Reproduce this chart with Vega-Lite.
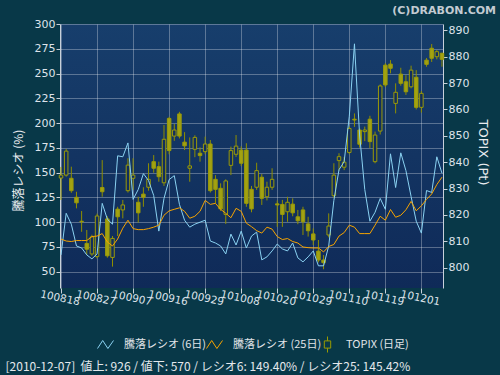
{
  "$schema": "https://vega.github.io/schema/vega-lite/v6.json",
  "width": 383,
  "height": 264,
  "autosize": {"type": "none"},
  "padding": {"left": 60, "top": 24, "right": 57, "bottom": 87},
  "background": "#083848",
  "title": {"text": "(C)DRABON.COM", "anchor": "end", "orient": "top", "frame": "group", "dx": 53, "offset": 0, "dy": 7, "baseline": "alphabetic", "font": "DejaVu Sans", "fontSize": 11, "fontWeight": "bold", "color": "#c3cbd2"},
  "config": {
    "view": {"stroke": null, "fill": {"gradient": "linear", "x1": 0, "y1": 0, "x2": 0, "y2": 1, "stops": [{"offset": 0, "color": "#173e6c"}, {"offset": 1, "color": "#0f2a58"}]}},
    "axis": {"labelColor": "#dde3ea", "domainColor": "#c8d0da", "tickColor": "#c8d0da", "gridColor": "#ffffff", "gridOpacity": 0.3, "labelFont": "DejaVu Sans", "labelFontSize": 11, "titleFont": "Noto Sans CJK JP", "titleColor": "#e8ecf0", "titleFontWeight": "normal", "titleFontSize": 12}
  },
  "data": {"values": [
    {"d":"2010-08-18","o":834.0,"h":838.2,"l":825.7,"c":835.1,"r6":67,"r25":83},
    {"d":"2010-08-19","o":835.1,"h":845.0,"l":834.5,"c":844.2,"r6":109,"r25":81},
    {"d":"2010-08-20","o":833.9,"h":838.3,"l":828.4,"c":829.2,"r6":98,"r25":80.5},
    {"d":"2010-08-23","o":826.7,"h":828.8,"l":822.5,"c":824.6,"r6":76,"r25":81.5},
    {"d":"2010-08-24","o":817.6,"h":821.5,"l":813.6,"c":817.4,"r6":74,"r25":81.5},
    {"d":"2010-08-25","o":809.2,"h":814.3,"l":804.8,"c":807.0,"r6":67,"r25":81.5},
    {"d":"2010-08-26","o":805.2,"h":812.5,"l":804.5,"c":811.7,"r6":63,"r25":85.5},
    {"d":"2010-08-27","o":804.2,"h":820.5,"l":803.5,"c":819.6,"r6":68,"r25":86},
    {"d":"2010-08-30","o":830.4,"h":840.8,"l":826.9,"c":828.8,"r6":119,"r25":88.5},
    {"d":"2010-08-31","o":818.5,"h":819.5,"l":803.8,"c":804.5,"r6":103,"r25":80},
    {"d":"2010-09-01","o":803.9,"h":812.0,"l":800.4,"c":811.1,"r6":98,"r25":76},
    {"d":"2010-09-02","o":822.2,"h":823.1,"l":812.0,"c":819.3,"r6":167,"r25":83},
    {"d":"2010-09-03","o":821.9,"h":825.7,"l":818.7,"c":823.8,"r6":166,"r25":94},
    {"d":"2010-09-06","o":829.2,"h":841.5,"l":828.5,"c":838.9,"r6":180,"r25":102},
    {"d":"2010-09-07","o":833.9,"h":841.5,"l":829.5,"c":835.1,"r6":123,"r25":93.5},
    {"d":"2010-09-08","o":824.8,"h":826.9,"l":817.1,"c":820.8,"r6":133,"r25":92.5},
    {"d":"2010-09-09","o":827.9,"h":830.5,"l":823.1,"c":826.7,"r6":149,"r25":92.5},
    {"d":"2010-09-10","o":830.5,"h":839.6,"l":829.2,"c":833.5,"r6":142,"r25":93.5},
    {"d":"2010-09-13","o":840.2,"h":842.7,"l":836.0,"c":837.7,"r6":127,"r25":95},
    {"d":"2010-09-14","o":838.3,"h":840.2,"l":832.6,"c":834.5,"r6":91,"r25":97},
    {"d":"2010-09-15","o":832.2,"h":854.1,"l":831.0,"c":848.7,"r6":124,"r25":107},
    {"d":"2010-09-16","o":856.6,"h":857.2,"l":843.0,"c":844.4,"r6":143,"r25":111.5},
    {"d":"2010-09-17","o":849.9,"h":854.5,"l":848.1,"c":852.2,"r6":147,"r25":113},
    {"d":"2010-09-21","o":858.3,"h":859.1,"l":849.0,"c":849.9,"r6":118,"r25":114.5},
    {"d":"2010-09-22","o":847.6,"h":851.4,"l":844.6,"c":846.2,"r6":102,"r25":111},
    {"d":"2010-09-24","o":837.7,"h":849.4,"l":832.6,"c":838.6,"r6":95,"r25":104},
    {"d":"2010-09-27","o":844.9,"h":850.2,"l":841.9,"c":849.4,"r6":98,"r25":106},
    {"d":"2010-09-28","o":843.4,"h":845.6,"l":840.2,"c":842.5,"r6":100,"r25":111},
    {"d":"2010-09-29","o":844.0,"h":849.7,"l":843.0,"c":846.9,"r6":102,"r25":122},
    {"d":"2010-09-30","o":846.9,"h":848.4,"l":828.5,"c":829.2,"r6":81,"r25":118},
    {"d":"2010-10-01","o":833.5,"h":835.1,"l":824.5,"c":829.7,"r6":79,"r25":119},
    {"d":"2010-10-04","o":830.1,"h":832.0,"l":821.5,"c":822.3,"r6":76,"r25":113},
    {"d":"2010-10-05","o":820.2,"h":833.5,"l":816.6,"c":832.9,"r6":68,"r25":109},
    {"d":"2010-10-06","o":838.8,"h":845.9,"l":835.1,"c":844.4,"r6":88,"r25":104.5},
    {"d":"2010-10-07","o":843.0,"h":850.3,"l":842.0,"c":846.1,"r6":77,"r25":114},
    {"d":"2010-10-08","o":844.6,"h":846.0,"l":838.5,"c":839.6,"r6":91,"r25":111},
    {"d":"2010-10-12","o":844.6,"h":847.2,"l":823.1,"c":824.4,"r6":74,"r25":99},
    {"d":"2010-10-13","o":829.7,"h":831.0,"l":821.0,"c":822.3,"r6":86,"r25":95.5},
    {"d":"2010-10-14","o":830.5,"h":839.8,"l":829.5,"c":836.8,"r6":90,"r25":91.5},
    {"d":"2010-10-15","o":834.3,"h":835.5,"l":823.8,"c":826.3,"r6":62,"r25":89},
    {"d":"2010-10-18","o":826.9,"h":832.6,"l":825.5,"c":830.5,"r6":65,"r25":95},
    {"d":"2010-10-19","o":830.5,"h":837.7,"l":829.5,"c":833.5,"r6":71,"r25":93},
    {"d":"2010-10-20","o":824.2,"h":825.5,"l":815.5,"c":823.8,"r6":78,"r25":85.5},
    {"d":"2010-10-21","o":824.0,"h":825.7,"l":815.5,"c":820.2,"r6":73,"r25":82.5},
    {"d":"2010-10-22","o":821.2,"h":826.9,"l":817.4,"c":824.8,"r6":71,"r25":83.5},
    {"d":"2010-10-25","o":824.1,"h":826.3,"l":819.5,"c":820.8,"r6":79,"r25":80.5},
    {"d":"2010-10-26","o":819.3,"h":821.9,"l":816.5,"c":817.8,"r6":64,"r25":79},
    {"d":"2010-10-27","o":821.9,"h":823.1,"l":812.4,"c":817.4,"r6":60,"r25":75},
    {"d":"2010-10-28","o":816.6,"h":819.3,"l":811.8,"c":814.0,"r6":65,"r25":74.3},
    {"d":"2010-10-29","o":812.8,"h":814.9,"l":808.6,"c":810.5,"r6":71,"r25":74},
    {"d":"2010-11-01","o":806.3,"h":810.5,"l":802.0,"c":802.9,"r6":56,"r25":74},
    {"d":"2010-11-02","o":802.9,"h":804.8,"l":799.4,"c":801.9,"r6":56,"r25":70},
    {"d":"2010-11-04","o":812.4,"h":820.6,"l":811.5,"c":815.8,"r6":76,"r25":75.5},
    {"d":"2010-11-05","o":827.3,"h":839.6,"l":826.5,"c":835.1,"r6":122,"r25":77.5},
    {"d":"2010-11-08","o":840.6,"h":843.4,"l":836.8,"c":842.1,"r6":153,"r25":86},
    {"d":"2010-11-09","o":838.1,"h":842.0,"l":837.0,"c":840.0,"r6":161,"r25":89.5},
    {"d":"2010-11-10","o":843.7,"h":853.5,"l":843.0,"c":852.8,"r6":207,"r25":97},
    {"d":"2010-11-11","o":856.3,"h":858.5,"l":853.4,"c":856.0,"r6":280,"r25":95},
    {"d":"2010-11-12","o":852.2,"h":852.8,"l":845.5,"c":846.8,"r6":188,"r25":88.5},
    {"d":"2010-11-15","o":851.6,"h":853.5,"l":848.0,"c":852.2,"r6":133,"r25":88.5},
    {"d":"2010-11-16","o":856.3,"h":857.6,"l":845.3,"c":847.8,"r6":101,"r25":88.5},
    {"d":"2010-11-17","o":840.2,"h":851.6,"l":839.6,"c":850.3,"r6":110,"r25":97},
    {"d":"2010-11-18","o":851.8,"h":869.5,"l":850.5,"c":868.9,"r6":124,"r25":106},
    {"d":"2010-11-19","o":876.8,"h":877.5,"l":868.5,"c":869.3,"r6":113,"r25":102},
    {"d":"2010-11-22","o":877.2,"h":878.7,"l":873.7,"c":875.6,"r6":169,"r25":112.8},
    {"d":"2010-11-24","o":862.3,"h":869.9,"l":858.5,"c":866.5,"r6":135,"r25":105},
    {"d":"2010-11-25","o":873.4,"h":875.8,"l":869.0,"c":869.9,"r6":170,"r25":107},
    {"d":"2010-11-26","o":870.5,"h":873.0,"l":865.5,"c":866.7,"r6":152,"r25":112.5},
    {"d":"2010-11-29","o":868.6,"h":876.6,"l":868.0,"c":874.9,"r6":126,"r25":121},
    {"d":"2010-11-30","o":872.2,"h":874.9,"l":860.0,"c":860.8,"r6":101,"r25":111.5},
    {"d":"2010-12-01","o":860.8,"h":867.0,"l":858.8,"c":866.1,"r6":89,"r25":116.5},
    {"d":"2010-12-02","o":878.7,"h":879.5,"l":876.2,"c":877.1,"r6":132,"r25":123},
    {"d":"2010-12-03","o":883.2,"h":884.8,"l":878.0,"c":879.4,"r6":130,"r25":128.5},
    {"d":"2010-12-06","o":880.0,"h":882.5,"l":879.0,"c":881.9,"r6":166,"r25":138},
    {"d":"2010-12-07","o":881.3,"h":881.5,"l":876.2,"c":879.0,"r6":149.4,"r25":145.42}
  ]},
  "encoding": {
    "x": {"field": "d", "type": "ordinal", "sort": null,
      "scale": {"paddingInner": 0.6, "paddingOuter": 0},
      "axis": {"values": ["2010-08-18","2010-08-27","2010-09-07","2010-09-16","2010-09-29","2010-10-08","2010-10-20","2010-10-29","2010-11-10","2010-11-19","2010-12-01"],
        "labelExpr": "slice(datum.value,2,4)+slice(datum.value,5,7)+slice(datum.value,8,10)",
        "labelAngle": 12, "labelAlign": "center", "labelBaseline": "top", "labelFontSize": 10.5, "labelPadding": 0,
        "grid": true, "bandPosition": 0.5, "domain": false, "tickSize": 5,
        "title": "[2010-12-07]\u00a0 値上: 926 / 値下: 570 / レシオ6: 149.40% / レシオ25: 145.42%",
        "titleX": -55, "titleY": 78, "titleAlign": "left", "titleBaseline": "middle", "titleFontSize": 12, "titleColor": "#e4e8ec"}}
  },
  "layer": [
    {
      "encoding": {"y": {"field": "h", "type": "quantitative",
        "scale": {"domain": [792.3, 892.4], "nice": false, "zero": false},
        "axis": {"orient": "right", "values": [800,810,820,830,840,850,860,870,880,890], "grid": false, "tickSize": 4, "labelPadding": 1,
          "title": "TOPIX (Pt)", "titleFont": "DejaVu Sans", "titleFontSize": 13, "titleX": 39, "titleY": 128, "titleAlign": "center", "titleBaseline": "middle"}}},
      "layer": [
        {"mark": {"type": "rule", "color": "#8f8f00", "strokeWidth": 1},
         "encoding": {"y2": {"field": "l"}}},
        {"mark": {"type": "bar", "size": 3.5, "stroke": "#9a9a08", "strokeWidth": 1},
         "encoding": {"y": {"field": "o", "type": "quantitative"}, "y2": {"field": "c"},
           "fill": {"condition": {"test": "datum.c < datum.o", "value": "#a2a212"}, "value": "#122e5c"}}}
      ]
    },
    {
      "transform": [{"fold": ["r6", "r25"], "as": ["s", "v"]}],
      "mark": {"type": "line", "strokeWidth": 1},
      "encoding": {
        "y": {"field": "v", "type": "quantitative",
          "scale": {"domain": [33.6, 300], "nice": false, "zero": false},
          "axis": {"orient": "left", "values": [50,75,100,125,150,175,200,225,250,275,300], "grid": true, "tickSize": 4, "labelPadding": 1,
            "title": "騰落レシオ (%)", "titleX": -42, "titleY": 146, "titleAlign": "center", "titleBaseline": "middle"}},
        "color": {"field": "s", "type": "nominal",
          "scale": {"domain": ["r6", "r25", "tp"], "range": ["#8ad2f2", "#f7a400", "#9a9a00"]},
          "legend": {"orient": "none", "legendX": 37, "legendY": 312, "direction": "horizontal", "title": null, "padding": 0, "gridAlign": "none",
            "labelColor": "#e0e4e8", "labelFont": "Noto Sans CJK JP", "labelFontSize": 11, "labelOffset": 10, "columnPadding": -3,
            "symbolSize": 256, "symbolStrokeWidth": 1, "symbolFillColor": "transparent",
            "symbolType": "M-1,0.5L-0.35,-0.5L0.3,0.5L1,-0.5",
            "labelExpr": "datum.value == 'r6' ? '騰落レシオ (6日)' : datum.value == 'r25' ? '騰落レシオ (25日)' : 'TOPIX (日足)'",
            "encode": {"symbols": {"update": {"shape": {"signal": "datum.value == 'tp' ? 'M0,-1L0,-0.45M-0.4,-0.45L0.4,-0.45L0.4,0.45L-0.4,0.45ZM0,0.45L0,1' : 'M-1,0.5L-0.35,-0.5L0.3,0.5L1,-0.5'"}}}}}}
      }
    }
  ],
  "resolve": {"scale": {"y": "independent"}}
}
